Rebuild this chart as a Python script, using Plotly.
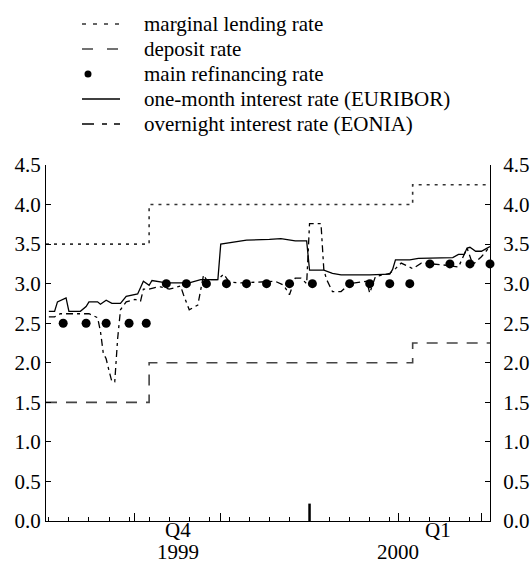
import plotly.graph_objects as go

# --- data --------------------------------------------------------------
# policy rates (step functions)
policy_dates = ["1999-10-01", "1999-11-06", "2000-02-06", "2000-03-04"]
marginal_rate = [3.5, 4.0, 4.25, 4.25]
deposit_rate = [1.5, 2.0, 2.25, 2.25]

# main refinancing operations (weekly tenders)
mro_dates = [
    "1999-10-07", "1999-10-15", "1999-10-22", "1999-10-30", "1999-11-05",
    "1999-11-12", "1999-11-19", "1999-11-26", "1999-12-03", "1999-12-10",
    "1999-12-17", "1999-12-25", "2000-01-02",
    "2000-01-15", "2000-01-22", "2000-01-29", "2000-02-05",
    "2000-02-12", "2000-02-19", "2000-02-26", "2000-03-04",
]
mro_rate = [2.5] * 5 + [3.0] * 12 + [3.25] * 4

# one-month EURIBOR
euribor_dates = [
    "1999-10-02", "1999-10-04", "1999-10-05", "1999-10-08", "1999-10-09",
    "1999-10-13", "1999-10-15", "1999-10-16", "1999-10-19", "1999-10-20",
    "1999-10-22", "1999-10-24", "1999-10-27", "1999-10-29", "1999-11-02",
    "1999-11-03", "1999-11-04", "1999-11-06", "1999-11-07", "1999-11-12",
    "1999-11-20", "1999-11-24", "1999-11-30", "1999-12-01", "1999-12-06",
    "1999-12-10", "1999-12-18", "1999-12-22", "1999-12-27", "1999-12-31",
    "2000-01-01", "2000-01-06", "2000-01-09", "2000-01-12", "2000-01-19",
    "2000-01-22", "2000-01-29", "2000-01-30", "2000-01-31", "2000-02-05",
    "2000-02-08", "2000-02-20", "2000-02-22", "2000-02-24", "2000-02-25",
    "2000-02-26", "2000-02-28", "2000-03-01", "2000-03-03", "2000-03-04",
]
euribor = [
    2.65, 2.65, 2.77, 2.82, 2.65,
    2.65, 2.71, 2.77, 2.77, 2.74,
    2.79, 2.75, 2.75, 2.84, 2.87,
    2.96, 3.03, 2.98, 3.04, 3.01,
    3.01, 3.05, 3.05, 3.50, 3.53,
    3.55, 3.56, 3.57, 3.54, 3.54,
    3.17, 3.17, 3.13, 3.11, 3.11,
    3.11, 3.12, 3.18, 3.30, 3.30,
    3.32, 3.33, 3.37, 3.37, 3.45,
    3.46, 3.41, 3.41, 3.45, 3.47,
]

# overnight EONIA
eonia_dates = [
    "1999-10-02", "1999-10-04", "1999-10-06", "1999-10-16", "1999-10-19",
    "1999-10-20", "1999-10-21", "1999-10-22", "1999-10-23", "1999-10-24",
    "1999-10-25", "1999-10-26", "1999-10-27", "1999-10-29", "1999-11-01",
    "1999-11-03", "1999-11-04", "1999-11-06", "1999-11-08", "1999-11-10",
    "1999-11-13", "1999-11-15", "1999-11-17", "1999-11-18", "1999-11-20",
    "1999-11-23", "1999-11-25", "1999-11-26", "1999-11-30", "1999-12-02",
    "1999-12-04", "1999-12-08", "1999-12-17", "1999-12-20", "1999-12-23",
    "1999-12-25", "1999-12-27", "1999-12-29", "1999-12-31", "2000-01-01",
    "2000-01-05", "2000-01-06", "2000-01-07", "2000-01-09", "2000-01-12",
    "2000-01-15", "2000-01-21", "2000-01-22", "2000-01-24", "2000-01-29",
    "2000-01-31", "2000-02-02", "2000-02-06", "2000-02-09", "2000-02-16",
    "2000-02-22", "2000-02-25", "2000-02-27", "2000-03-01", "2000-03-03",
    "2000-03-04",
]
eonia = [
    2.58, 2.58, 2.62, 2.62, 2.57,
    2.40, 2.12, 2.05, 1.90, 1.76,
    1.76, 2.30, 2.67, 2.77, 2.80,
    2.78, 2.93, 2.93, 2.95, 2.96,
    2.93, 2.95, 2.97, 2.86, 2.67,
    2.73, 3.11, 3.05, 3.05, 3.12,
    3.02, 3.01, 3.02, 3.03, 2.98,
    2.86, 3.07, 3.07, 3.00, 3.76,
    3.76, 3.17, 3.05, 2.90, 2.90,
    3.00, 3.03, 2.88, 3.09, 3.13,
    3.19, 3.26, 3.19, 3.26, 3.24,
    3.21, 3.45, 3.24, 3.34, 3.43,
    3.47,
]

# axis labels
month_ticks = ["1999-11-01", "1999-12-01", "2000-01-01", "2000-02-01", "2000-03-01"]
year_break = "2000-01-01"
quarter_labels = [("Q4", "1999-11-16"), ("Q1", "2000-02-15")]
year_labels = [("1999", "1999-11-16"), ("2000", "2000-02-01")]

legend_names = [
    "marginal lending rate",
    "deposit rate",
    "main refinancing rate",
    "one-month interest rate (EURIBOR)",
    "overnight interest rate (EONIA)",
]

# --- styling -----------------------------------------------------------
FONT = "Liberation Serif, Times New Roman, serif"
FS = 21
W, H = 530, 566
PL, PR, PT, PB = 46, 490, 165, 521  # plot area in pixels

MARG_DASH = "3px,5px"
DEP_DASH = "11px,9px"
EONIA_DASH = "7px,4px,3px,4px"


def px_x(px):
    return (px - PL) / (PR - PL)


def px_y(py):
    return (PB - py) / (PB - PT)


fig = go.Figure()

fig.add_trace(go.Scatter(
    x=policy_dates, y=marginal_rate, mode="lines", line_shape="hv",
    line=dict(color="#333333", width=1.6, dash=MARG_DASH),
    name=legend_names[0], showlegend=False,
))
fig.add_trace(go.Scatter(
    x=policy_dates, y=deposit_rate, mode="lines", line_shape="hv",
    line=dict(color="#444444", width=1.6, dash=DEP_DASH),
    name=legend_names[1], showlegend=False, yaxis="y2",
))
fig.add_trace(go.Scatter(
    x=eonia_dates, y=eonia, mode="lines",
    line=dict(color="black", width=1.3, dash=EONIA_DASH),
    name=legend_names[4], showlegend=False,
))
fig.add_trace(go.Scatter(
    x=euribor_dates, y=euribor, mode="lines",
    line=dict(color="black", width=1.3),
    name=legend_names[3], showlegend=False,
))
fig.add_trace(go.Scatter(
    x=mro_dates, y=mro_rate, mode="markers",
    marker=dict(color="black", size=9),
    name=legend_names[2], showlegend=False, cliponaxis=False,
))

# hand-made legend (rows 25 px apart like the reference)
legend_rows = [24, 49, 74, 99, 124]
sym_x0, sym_x1, text_x = 82, 120, 142
shapes = []
annotations = []
styles = [
    dict(kind="line", dash="4px,7px", color="#333333"),
    dict(kind="line", dash="11px,14px", color="#444444"),
    dict(kind="dot"),
    dict(kind="line", dash="solid", color="black"),
    dict(kind="line", dash="12px,8px,5px,7px", color="black"),
]
for row, name, st in zip(legend_rows, legend_names, styles):
    if st["kind"] == "line":
        shapes.append(dict(
            type="line", xref="paper", yref="paper",
            x0=px_x(sym_x0), x1=px_x(sym_x1), y0=px_y(row), y1=px_y(row),
            line=dict(color=st["color"], width=1.5, dash=st["dash"]),
        ))
    else:
        shapes.append(dict(
            type="circle", xref="paper", yref="paper",
            x0=px_x(84.5), x1=px_x(91.5), y0=px_y(row + 3.5), y1=px_y(row - 3.5),
            fillcolor="black", line=dict(width=0),
        ))
    annotations.append(dict(
        text=name, xref="paper", yref="paper", x=px_x(text_x), y=px_y(row),
        xanchor="left", yanchor="middle", showarrow=False,
        font=dict(family=FONT, size=FS, color="black"),
    ))

# year boundary marker on the time axis
shapes.append(dict(
    type="line", xref="x", yref="y", x0=year_break, x1=year_break,
    y0=0, y1=0.22, line=dict(color="black", width=2.5),
))

for txt, pos in quarter_labels:
    annotations.append(dict(
        text=txt, xref="x", yref="paper", x=pos, y=0, yanchor="middle",
        yshift=-9, showarrow=False, font=dict(family=FONT, size=FS, color="black"),
    ))
for txt, pos in year_labels:
    annotations.append(dict(
        text=txt, xref="x", yref="paper", x=pos, y=0, yanchor="middle",
        yshift=-31, showarrow=False, font=dict(family=FONT, size=FS, color="black"),
    ))

yaxis_common = dict(
    range=[0, 4.5], dtick=0.5, tick0=0, tickformat=".1f",
    ticks="inside", ticklen=5, tickwidth=1, tickcolor="black",
    showline=True, linecolor="black", linewidth=1.3,
    showgrid=False, zeroline=False, fixedrange=True, automargin=False,
    tickfont=dict(family=FONT, size=FS, color="black"),
)

fig.update_layout(
    width=W, height=H,
    margin=dict(l=PL, r=W - PR, t=PT, b=H - PB, pad=0, autoexpand=False),
    plot_bgcolor="white", paper_bgcolor="white",
    font=dict(family=FONT, size=FS, color="black"),
    showlegend=False,
    xaxis=dict(
        type="date", range=["1999-10-01", "2000-03-04"],
        showline=True, linecolor="black", linewidth=1.3,
        showgrid=False, zeroline=False, fixedrange=True, automargin=False,
        tickmode="array", tickvals=month_ticks, ticks="inside",
        ticklen=8, tickwidth=1, tickcolor="black", showticklabels=False,
        minor=dict(ticks="inside", ticklen=4, tickwidth=1, tickcolor="black",
                   dtick=7 * 86400000, tick0="2000-01-01", showgrid=False),
    ),
    yaxis=yaxis_common,
    yaxis2=dict(yaxis_common, overlaying="y", side="right", ticklabelstandoff=8),
    shapes=shapes,
    annotations=annotations,
)

# the page body has an 8px default margin; drop it so the figure sits at 0,0
fig.write_html(
    "out.html",
    config={"displayModeBar": False},
    post_script="document.body.style.margin='0';document.body.style.overflow='hidden';",
)
